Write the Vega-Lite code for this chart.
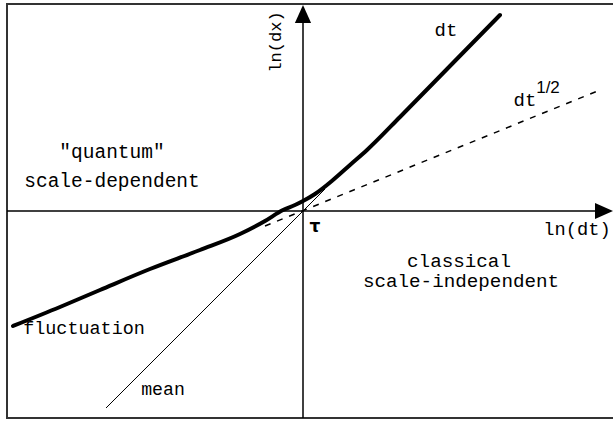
{
  "$schema": "https://vega.github.io/schema/vega-lite/v6.json",
  "width": 614,
  "height": 424,
  "padding": 0,
  "autosize": {"type": "fit", "contains": "padding"},
  "background": "white",
  "config": {"view": {"stroke": null}},
  "datasets": {
    "frame": [
      {"part": "left border", "x": -2.96, "y": 2.07, "x2": -2.96, "y2": -2.07},
      {"part": "top border", "x": -2.97, "y": 2.07, "x2": 3.1, "y2": 2.07},
      {"part": "bottom border", "x": -2.97, "y": -2.07, "x2": 3.1, "y2": -2.07}
    ],
    "axes": [
      {"part": "ln(dt) axis", "x": -2.96, "y": 0, "x2": 2.93, "y2": 0},
      {"part": "ln(dx) axis", "x": 0, "y": 1.9, "x2": 0, "y2": -2.07}
    ],
    "arrows": [
      {"dir": "up", "x": 0, "y": 1.97},
      {"dir": "right", "x": 3.01, "y": 0}
    ],
    "fluctuation": [
      {"x": -2.90, "y": -1.15},
      {"x": -2.43, "y": -0.96},
      {"x": -2.03, "y": -0.79},
      {"x": -1.53, "y": -0.58},
      {"x": -1.03, "y": -0.39},
      {"x": -0.63, "y": -0.23},
      {"x": -0.38, "y": -0.10},
      {"x": -0.20, "y": 0.01},
      {"x": -0.08, "y": 0.06},
      {"x": 0.0, "y": 0.10},
      {"x": 0.12, "y": 0.17},
      {"x": 0.30, "y": 0.31},
      {"x": 0.47, "y": 0.46},
      {"x": 0.64, "y": 0.61},
      {"x": 0.97, "y": 0.94},
      {"x": 1.47, "y": 1.45},
      {"x": 1.97, "y": 1.96}
    ],
    "mean": [
      {"x": -1.97, "y": -1.97},
      {"x": 0.22, "y": 0.22}
    ],
    "sqrt": [
      {"x": -0.38, "y": -0.15},
      {"x": 2.97, "y": 1.21}
    ],
    "labels": [
      {"text": "\"quantum\"", "x": -1.91, "y": 0.53, "kind": "region-left"},
      {"text": "scale-dependent", "x": -1.91, "y": 0.24, "kind": "region-left"},
      {"text": "classical", "x": 1.56, "y": -0.557, "kind": "region-right"},
      {"text": "scale-independent", "x": 1.58, "y": -0.757, "kind": "region-right"},
      {"text": "dt", "x": 1.43, "y": 1.75, "kind": "curve"},
      {"text": "dt", "x": 2.22, "y": 1.05, "kind": "curve"},
      {"text": "ln(dt)", "x": 2.74, "y": -0.24, "kind": "axis"},
      {"text": "fluctuation", "x": -2.19, "y": -1.23, "kind": "small"},
      {"text": "mean", "x": -1.40, "y": -1.84, "kind": "mean"}
    ],
    "vlabel": [{"text": "ln(dx)", "x": -0.27, "y": 1.69}],
    "sup": [{"text": "1/2", "x": 2.45, "y": 1.18}],
    "tau": [{"text": "τ", "x": 0.12, "y": -0.21}]
  },
  "layer": [
    {
      "data": {"name": "frame"},
      "mark": {"type": "rule", "color": "#333", "strokeWidth": 2},
      "encoding": {
        "x": {"field": "x", "type": "quantitative", "scale": {"domain": [-3.03, 3.11], "nice": false, "zero": false}, "axis": null},
        "y": {"field": "y", "type": "quantitative", "scale": {"domain": [-2.13, 2.11], "nice": false, "zero": false}, "axis": null},
        "x2": {"field": "x2"},
        "y2": {"field": "y2"}
      }
    },
    {
      "data": {"name": "axes"},
      "mark": {"type": "rule", "color": "black", "strokeWidth": 1.5},
      "encoding": {
        "x": {"field": "x", "type": "quantitative", "scale": {"domain": [-3.03, 3.11], "nice": false, "zero": false}, "axis": null},
        "y": {"field": "y", "type": "quantitative", "scale": {"domain": [-2.13, 2.11], "nice": false, "zero": false}, "axis": null},
        "x2": {"field": "x2"},
        "y2": {"field": "y2"}
      }
    },
    {
      "data": {"name": "arrows"},
      "mark": {"type": "point", "filled": true, "size": 324, "color": "black", "opacity": 1},
      "encoding": {
        "x": {"field": "x", "type": "quantitative", "scale": {"domain": [-3.03, 3.11], "nice": false, "zero": false}, "axis": null},
        "y": {"field": "y", "type": "quantitative", "scale": {"domain": [-2.13, 2.11], "nice": false, "zero": false}, "axis": null},
        "shape": {"field": "dir", "type": "nominal", "scale": {"domain": ["up", "right"], "range": ["M0,-1L-0.9,1L0.9,1Z", "M1,0L-1,-0.9L-1,0.9Z"]}, "legend": null}
      }
    },
    {
      "data": {"name": "sqrt"},
      "mark": {"type": "line", "color": "black", "strokeWidth": 1.5, "strokeDash": [6, 7]},
      "encoding": {
        "x": {"field": "x", "type": "quantitative", "scale": {"domain": [-3.03, 3.11], "nice": false, "zero": false}, "axis": null},
        "y": {"field": "y", "type": "quantitative", "scale": {"domain": [-2.13, 2.11], "nice": false, "zero": false}, "axis": null}
      }
    },
    {
      "data": {"name": "mean"},
      "mark": {"type": "line", "color": "black", "strokeWidth": 1},
      "encoding": {
        "x": {"field": "x", "type": "quantitative", "scale": {"domain": [-3.03, 3.11], "nice": false, "zero": false}, "axis": null},
        "y": {"field": "y", "type": "quantitative", "scale": {"domain": [-2.13, 2.11], "nice": false, "zero": false}, "axis": null}
      }
    },
    {
      "data": {"name": "fluctuation"},
      "mark": {"type": "line", "color": "black", "strokeWidth": 4, "strokeCap": "round", "strokeJoin": "round", "interpolate": "monotone"},
      "encoding": {
        "x": {"field": "x", "type": "quantitative", "scale": {"domain": [-3.03, 3.11], "nice": false, "zero": false}, "axis": null},
        "y": {"field": "y", "type": "quantitative", "scale": {"domain": [-2.13, 2.11], "nice": false, "zero": false}, "axis": null}
      }
    },
    {
      "data": {"name": "labels"},
      "mark": {"type": "text", "font": "Liberation Mono", "color": "black", "align": "center", "baseline": "alphabetic"},
      "encoding": {
        "x": {"field": "x", "type": "quantitative", "scale": {"domain": [-3.03, 3.11], "nice": false, "zero": false}, "axis": null},
        "y": {"field": "y", "type": "quantitative", "scale": {"domain": [-2.13, 2.11], "nice": false, "zero": false}, "axis": null},
        "text": {"field": "text"},
        "size": {"field": "kind", "type": "ordinal", "scale": {"domain": ["region-left", "region-right", "curve", "axis", "small", "mean"], "range": [19.5, 18.2, 21, 16.7, 13.7, 16.5]}, "legend": null}
      }
    },
    {
      "data": {"name": "vlabel"},
      "mark": {"type": "text", "font": "Liberation Mono", "fontSize": 17, "color": "black", "align": "center", "baseline": "middle", "angle": 270},
      "encoding": {
        "x": {"field": "x", "type": "quantitative", "scale": {"domain": [-3.03, 3.11], "nice": false, "zero": false}, "axis": null},
        "y": {"field": "y", "type": "quantitative", "scale": {"domain": [-2.13, 2.11], "nice": false, "zero": false}, "axis": null},
        "text": {"field": "text"}
      }
    },
    {
      "data": {"name": "sup"},
      "mark": {"type": "text", "font": "Liberation Sans Narrow, Liberation Sans", "fontSize": 17, "color": "black", "align": "center", "baseline": "alphabetic"},
      "encoding": {
        "x": {"field": "x", "type": "quantitative", "scale": {"domain": [-3.03, 3.11], "nice": false, "zero": false}, "axis": null},
        "y": {"field": "y", "type": "quantitative", "scale": {"domain": [-2.13, 2.11], "nice": false, "zero": false}, "axis": null},
        "text": {"field": "text"}
      }
    },
    {
      "data": {"name": "tau"},
      "mark": {"type": "text", "font": "DejaVu Sans", "fontSize": 17, "fontWeight": "bold", "color": "black", "align": "center", "baseline": "alphabetic"},
      "encoding": {
        "x": {"field": "x", "type": "quantitative", "scale": {"domain": [-3.03, 3.11], "nice": false, "zero": false}, "axis": null},
        "y": {"field": "y", "type": "quantitative", "scale": {"domain": [-2.13, 2.11], "nice": false, "zero": false}, "axis": null},
        "text": {"field": "text"}
      }
    }
  ]
}
